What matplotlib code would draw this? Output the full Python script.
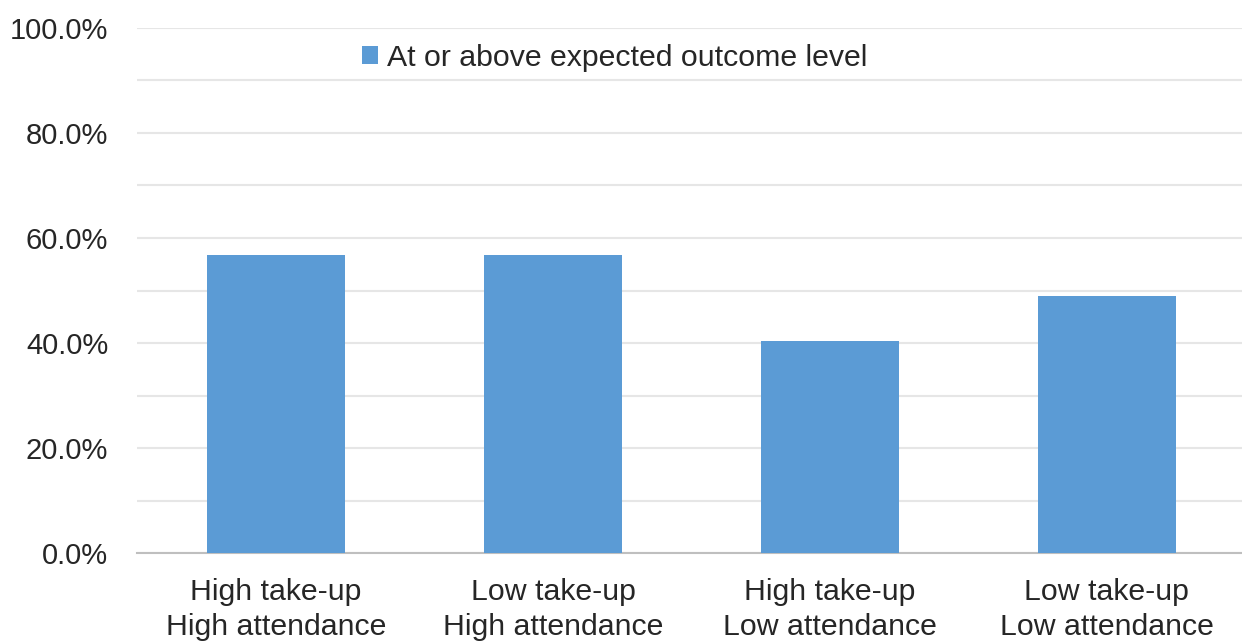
import numpy as np
import matplotlib.pyplot as plt
from matplotlib.patches import Patch
from matplotlib.ticker import MultipleLocator, FuncFormatter

# share of children at or above expected outcome level, by group
groups = ['High take-up\nHigh attendance', 'Low take-up\nHigh attendance',
          'High take-up\nLow attendance', 'Low take-up\nLow attendance']
pct_expected = [56.8, 56.8, 40.4, 49.0]
series_name = 'At or above expected outcome level'

BAR_COLOR = '#5b9bd5'

plt.rcParams['font.family'] = ['Liberation Sans', 'DejaVu Sans']

fig = plt.figure(figsize=(12.42, 6.42), dpi=100)
ax = fig.add_axes([0.1107, 0.1386, 0.892, 0.8178])

x = np.arange(len(groups))
ax.bar(x, pct_expected, width=0.5, color=BAR_COLOR, zorder=3)

ax.set_xlim(-0.5, len(groups) - 0.5)
ax.set_ylim(0, 100)
ax.yaxis.set_major_locator(MultipleLocator(20))
ax.yaxis.set_minor_locator(MultipleLocator(10))
ax.yaxis.set_major_formatter(FuncFormatter(lambda v, p: '%.1f%%' % v))
ax.grid(axis='y', which='both', color='#e6e6e6', linewidth=1.5, zorder=0)

ax.set_xticks(x)
ax.set_xticklabels(groups, fontsize=21.8, color='#262626', linespacing=1.3)
ax.tick_params(axis='y', which='both', length=0, pad=21, labelsize=21, labelcolor='#262626')
ax.tick_params(axis='x', length=0, pad=18)

for side in ['top', 'right', 'left']:
    ax.spines[side].set_visible(False)
ax.spines['bottom'].set_color('#bfbfbf')
ax.spines['bottom'].set_linewidth(1.5)

handle = Patch(facecolor=BAR_COLOR, edgecolor='none')
fig.legend([handle], [series_name], loc='center', bbox_to_anchor=(0.495, 0.91),
           frameon=False, fontsize=21.8, handlelength=0.5, handleheight=0.5,
           handletextpad=0.3, labelcolor='#262626')

fig.savefig('out.png', dpi=100)
